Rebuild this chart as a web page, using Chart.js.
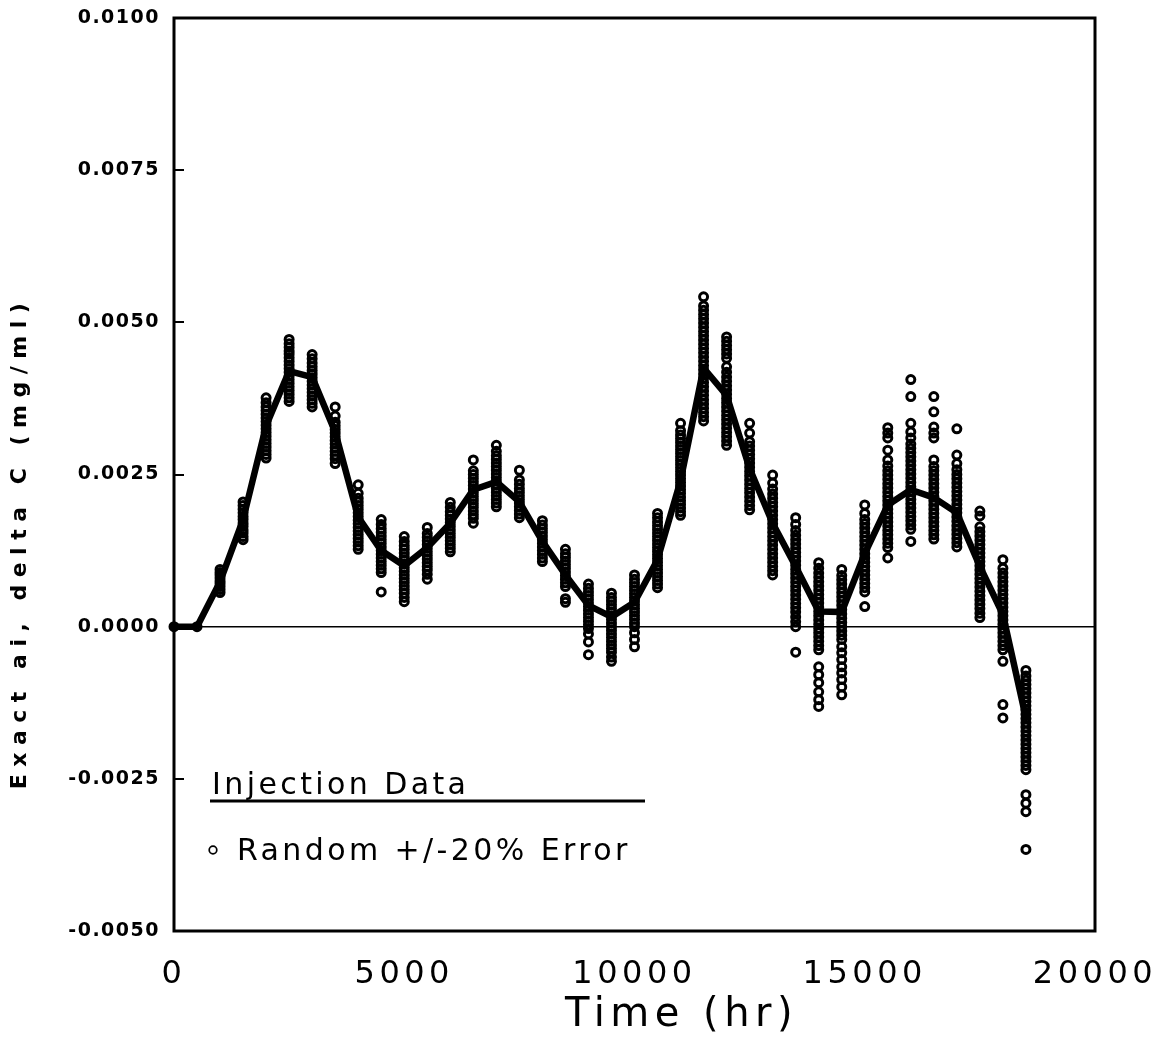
<!DOCTYPE html>
<html><head><meta charset="utf-8">
<script src="https://cdn.jsdelivr.net/npm/chart.js@4.4.1/dist/chart.umd.min.js"></script>
<style>html,body{margin:0;padding:0;background:#fff;}#wrap{width:1161px;height:1044px;}</style>
</head><body><div id="wrap"><canvas id="c" width="1161" height="1044"></canvas></div>
<script>
// ---- data ----
const times = [0,500,1000,1500,2000,2500,3000,3500,4000,4500,5000,5500,6000,6500,7000,7500,8000,8500,9000,9500,10000,10500,11000,11500,12000,12500,13000,13500,14000,14500,15000,15500,16000,16500,17000,17500,18000,18500];
const exactLine = [0,0,0.00074,0.00176,0.0033,0.0042,0.0041,0.0032,0.0018,0.00125,0.001,0.0013,0.0017,0.00225,0.00238,0.00205,0.0014,0.00085,0.00035,0.00016,0.0004,0.0011,0.0024,0.00425,0.0038,0.0026,0.0017,0.00099,0.00025,0.00024,0.0012,0.002,0.00225,0.00212,0.00187,0.00099,0.0002,-0.0015];
const randomError = [
 [0],
 [0],
 [0.00056,0.00061,0.00066,0.00071,0.00075,0.00080,0.00085,0.00089,0.00094],
 [0.00143,0.00148,0.00154,0.00159,0.00165,0.00170,0.00176,0.00181,0.00187,0.00193,0.00199,0.00205],
 [0.00277,0.00283,0.00289,0.00295,0.00301,0.00307,0.00313,0.00319,0.00325,0.00331,0.00337,0.00343,0.00349,0.00355,0.00361,0.00368,0.00376],
 [0.00370,0.00376,0.00382,0.00388,0.00394,0.00400,0.00406,0.00412,0.00418,0.00424,0.00430,0.00436,0.00442,0.00448,0.00453,0.00459,0.00465,0.00472],
 [0.00361,0.00367,0.00373,0.00379,0.00385,0.00391,0.00397,0.00403,0.00409,0.00415,0.00421,0.00427,0.00433,0.00440,0.00447],
 [0.00268,0.00276,0.00282,0.00288,0.00294,0.00300,0.00306,0.00312,0.00318,0.00324,0.00330,0.00336,0.00346,0.00361],
 [0.00127,0.00133,0.00139,0.00145,0.00151,0.00157,0.00163,0.00169,0.00175,0.00181,0.00187,0.00193,0.00199,0.00205,0.00211,0.00219,0.00233],
 [0.00057,0.00089,0.00095,0.00101,0.00107,0.00113,0.00119,0.00125,0.00131,0.00137,0.00143,0.00149,0.00155,0.00161,0.00168,0.00176],
 [0.00041,0.00048,0.00055,0.00061,0.00067,0.00073,0.00079,0.00085,0.00091,0.00097,0.00103,0.00109,0.00115,0.00121,0.00127,0.00133,0.00140,0.00148],
 [0.00078,0.00086,0.00093,0.00099,0.00105,0.00111,0.00117,0.00123,0.00129,0.00135,0.00141,0.00147,0.00153,0.00163],
 [0.00123,0.00129,0.00135,0.00141,0.00147,0.00153,0.00159,0.00165,0.00171,0.00177,0.00183,0.00189,0.00196,0.00204],
 [0.00170,0.00178,0.00184,0.00190,0.00196,0.00202,0.00208,0.00214,0.00220,0.00226,0.00232,0.00238,0.00244,0.00250,0.00256,0.00274],
 [0.00197,0.00203,0.00209,0.00215,0.00221,0.00227,0.00233,0.00239,0.00245,0.00251,0.00257,0.00263,0.00269,0.00275,0.00281,0.00288,0.00298],
 [0.00179,0.00185,0.00191,0.00197,0.00203,0.00209,0.00215,0.00221,0.00227,0.00234,0.00241,0.00257],
 [0.00107,0.00113,0.00119,0.00125,0.00131,0.00137,0.00143,0.00149,0.00155,0.00161,0.00167,0.00174],
 [0.00040,0.00046,0.00066,0.00072,0.00078,0.00084,0.00090,0.00096,0.00102,0.00108,0.00114,0.00120,0.00127],
 [-0.00046,-0.00025,-0.00012,-0.00003,0.00003,0.00009,0.00015,0.00021,0.00027,0.00033,0.00039,0.00045,0.00051,0.00057,0.00063,0.00070],
 [-0.00057,-0.00050,-0.00042,-0.00036,-0.00030,-0.00024,-0.00018,-0.00012,-0.00006,0.00000,0.00006,0.00012,0.00018,0.00024,0.00030,0.00036,0.00042,0.00048,0.00055],
 [-0.00033,-0.00021,-0.00010,0.00000,0.00006,0.00012,0.00018,0.00024,0.00030,0.00036,0.00042,0.00048,0.00054,0.00060,0.00066,0.00072,0.00078,0.00085],
 [0.00064,0.00070,0.00076,0.00082,0.00088,0.00094,0.00100,0.00106,0.00112,0.00118,0.00124,0.00130,0.00136,0.00142,0.00148,0.00154,0.00160,0.00166,0.00172,0.00179,0.00186],
 [0.00183,0.00189,0.00195,0.00201,0.00207,0.00213,0.00219,0.00225,0.00231,0.00237,0.00243,0.00249,0.00255,0.00261,0.00267,0.00273,0.00279,0.00285,0.00291,0.00297,0.00303,0.00309,0.00315,0.00322,0.00334],
 [0.00338,0.00345,0.00352,0.00359,0.00366,0.00373,0.00380,0.00387,0.00394,0.00401,0.00408,0.00415,0.00422,0.00429,0.00436,0.00443,0.00450,0.00457,0.00464,0.00471,0.00478,0.00485,0.00492,0.00499,0.00506,0.00513,0.00520,0.00527,0.00542],
 [0.00298,0.00305,0.00312,0.00319,0.00326,0.00333,0.00340,0.00347,0.00354,0.00361,0.00368,0.00375,0.00382,0.00389,0.00396,0.00403,0.00410,0.00418,0.00427,0.00441,0.00448,0.00455,0.00462,0.00469,0.00476],
 [0.00192,0.00199,0.00206,0.00213,0.00220,0.00227,0.00234,0.00241,0.00248,0.00255,0.00262,0.00269,0.00276,0.00283,0.00290,0.00297,0.00304,0.00318,0.00334],
 [0.00085,0.00092,0.00099,0.00106,0.00113,0.00120,0.00127,0.00134,0.00141,0.00148,0.00155,0.00162,0.00169,0.00176,0.00183,0.00190,0.00197,0.00204,0.00211,0.00218,0.00226,0.00236,0.00249],
 [-0.00042,0.00000,0.00008,0.00016,0.00024,0.00031,0.00038,0.00045,0.00052,0.00059,0.00066,0.00073,0.00080,0.00087,0.00094,0.00101,0.00108,0.00115,0.00122,0.00129,0.00136,0.00143,0.00150,0.00158,0.00168,0.00179],
 [-0.00131,-0.00120,-0.00107,-0.00092,-0.00079,-0.00066,-0.00038,-0.00031,-0.00024,-0.00017,-0.00010,-0.00003,0.00004,0.00011,0.00018,0.00025,0.00032,0.00039,0.00046,0.00053,0.00060,0.00067,0.00074,0.00081,0.00088,0.00096,0.00105],
 [-0.00112,-0.00099,-0.00087,-0.00076,-0.00066,-0.00054,-0.00043,-0.00033,-0.00021,-0.00014,-0.00007,0.00000,0.00007,0.00014,0.00021,0.00028,0.00035,0.00042,0.00049,0.00056,0.00063,0.00070,0.00077,0.00084,0.00094],
 [0.00033,0.00057,0.00064,0.00071,0.00078,0.00085,0.00092,0.00099,0.00106,0.00113,0.00120,0.00127,0.00134,0.00141,0.00148,0.00155,0.00162,0.00169,0.00176,0.00186,0.00200],
 [0.00113,0.00130,0.00137,0.00144,0.00151,0.00158,0.00165,0.00172,0.00179,0.00186,0.00193,0.00200,0.00207,0.00214,0.00221,0.00228,0.00235,0.00242,0.00249,0.00256,0.00264,0.00274,0.00290,0.00310,0.00318,0.00327],
 [0.00140,0.00160,0.00167,0.00174,0.00181,0.00188,0.00195,0.00202,0.00209,0.00216,0.00223,0.00230,0.00237,0.00244,0.00251,0.00258,0.00265,0.00272,0.00279,0.00286,0.00293,0.00300,0.00310,0.00320,0.00334,0.00378,0.00406],
 [0.00144,0.00151,0.00158,0.00165,0.00172,0.00179,0.00186,0.00193,0.00200,0.00207,0.00214,0.00221,0.00228,0.00235,0.00242,0.00249,0.00256,0.00263,0.00274,0.00310,0.00318,0.00328,0.00353,0.00378],
 [0.00131,0.00138,0.00145,0.00152,0.00159,0.00166,0.00173,0.00180,0.00187,0.00194,0.00201,0.00208,0.00215,0.00222,0.00229,0.00236,0.00243,0.00250,0.00258,0.00268,0.00282,0.00325],
 [0.00015,0.00022,0.00030,0.00037,0.00044,0.00051,0.00058,0.00065,0.00072,0.00079,0.00086,0.00093,0.00100,0.00107,0.00114,0.00121,0.00128,0.00135,0.00142,0.00149,0.00156,0.00164,0.00182,0.00190],
 [-0.00150,-0.00128,-0.00057,-0.00038,-0.00031,-0.00024,-0.00017,-0.00010,-0.00003,0.00004,0.00011,0.00018,0.00025,0.00032,0.00039,0.00046,0.00053,0.00060,0.00067,0.00074,0.00081,0.00088,0.00096,0.00110],
 [-0.00366,-0.00304,-0.00290,-0.00276,-0.00235,-0.00228,-0.00221,-0.00214,-0.00207,-0.00200,-0.00193,-0.00186,-0.00179,-0.00172,-0.00165,-0.00158,-0.00151,-0.00144,-0.00137,-0.00130,-0.00123,-0.00116,-0.00109,-0.00102,-0.00095,-0.00088,-0.00081,-0.00072]
];
const xTicks = [0,5000,10000,15000,20000];
const yTicks = [-0.005,-0.0025,0,0.0025,0.005,0.0075,0.01];
const seriesNames = ['Injection Data','Random +/-20% Error'];
const xTitle = 'Time (hr)';
const yTitle = 'Exact ai, delta C (mg/ml)';

// ---- build library data ----
const linePts = times.map((t,i)=>({x:t,y:exactLine[i]}));
const scatterPts = [];
times.forEach((t,i)=>randomError[i].forEach(v=>scatterPts.push({x:t,y:v})));

const FONT = '"DejaVu Sans", "Liberation Sans", sans-serif';

const framePlugin = {
  id:'frame',
  beforeDraw(chart){
    const ctx = chart.ctx;
    const patch = (scale, labelSp, titleSp, dx, dy) => {
      if (!scale || scale._patched) return;
      scale._patched = true;
      const dl = scale.drawLabels.bind(scale);
      scale.drawLabels = function(a){ ctx.save(); ctx.letterSpacing = labelSp; dl(a); ctx.restore(); };
      const dt = scale.drawTitle.bind(scale);
      scale.drawTitle = function(a){ ctx.save(); ctx.letterSpacing = titleSp; ctx.translate(dx, dy); dt(a); ctx.restore(); };
    };
    patch(chart.scales.x, '4.5px', '5.5px', 47, 0);
    patch(chart.scales.y, '1.5px', '7.5px', 1, 68);
  },
  afterDraw(chart){
    const ctx = chart.ctx, a = chart.chartArea, ys = chart.scales.y;
    ctx.save();
    ctx.strokeStyle = '#000';
    ctx.lineWidth = 3;
    ctx.strokeRect(a.left, a.top, a.right - a.left, a.bottom - a.top);
    ctx.lineWidth = 2;
    ys.ticks.forEach(t => {
      const y = Math.round(ys.getPixelForValue(t.value));
      ctx.beginPath(); ctx.moveTo(a.left, y); ctx.lineTo(a.left + 10, y); ctx.stroke();
    });
    // legend
    ctx.fillStyle = '#000';
    ctx.font = '30px ' + FONT;
    ctx.letterSpacing = '3.4px';
    ctx.textAlign = 'left';
    ctx.textBaseline = 'alphabetic';
    ctx.fillText(seriesNames[0], 212, 794);
    ctx.lineWidth = 3;
    ctx.beginPath(); ctx.moveTo(210, 801); ctx.lineTo(645, 801); ctx.stroke();
    ctx.lineWidth = 1.7;
    ctx.beginPath(); ctx.arc(213, 850, 3.8, 0, Math.PI*2); ctx.stroke();
    ctx.textBaseline = 'middle';
    ctx.fillText(seriesNames[1], 237, 852);
    ctx.restore();
  }
};

new Chart(document.getElementById('c'), {
  type:'scatter',
  data:{datasets:[
    {type:'line', label:seriesNames[0], data:linePts, borderColor:'#000', borderWidth:6.5, pointRadius:0, tension:0, fill:false, order:0, clip:false, borderJoinStyle:'round', borderCapStyle:'round'},
    {type:'scatter', label:seriesNames[1], data:scatterPts, borderColor:'#000', backgroundColor:'rgba(0,0,0,0)', pointRadius:4, borderWidth:3, order:1, clip:false}
  ]},
  options:{
    responsive:false, animation:false, devicePixelRatio:1,
    layout:{padding:{top:18, right:66, left:0, bottom:0}},
    plugins:{legend:{display:false}, tooltip:{enabled:false}},
    scales:{
      x:{type:'linear', min:0, max:20000,
        afterBuildTicks:s=>{s.ticks = xTicks.map(v=>({value:v}));},
        afterFit:s=>{s.height = 113; s.paddingLeft = 0; s.paddingRight = 0;},
        grid:{display:false, drawTicks:false}, border:{display:false},
        ticks:{font:{family:FONT, size:32}, color:'#000', padding:24, maxRotation:0, autoSkip:false, callback:v=>String(v)},
        title:{display:true, text:xTitle, font:{family:FONT, size:40}, color:'#000', padding:{top:0, bottom:4}}
      },
      y:{type:'linear', min:-0.005, max:0.01,
        afterBuildTicks:s=>{s.ticks = yTicks.map(v=>({value:v}));},
        afterFit:s=>{s.width = 174; s.paddingTop = 0; s.paddingBottom = 0;},
        grid:{drawTicks:false, color:c=>(c.tick && c.tick.value === 0) ? '#000' : 'rgba(0,0,0,0)', lineWidth:1.5},
        border:{display:false},
        ticks:{font:{family:FONT, size:19, weight:'bold'}, color:'#000', padding:14, callback:v=>Number(v).toFixed(4)},
        title:{display:true, text:yTitle, font:{family:FONT, size:22, weight:'bold'}, color:'#000', padding:{top:6, bottom:0}}
      }
    }
  },
  plugins:[framePlugin]
});
</script>
</body></html>
